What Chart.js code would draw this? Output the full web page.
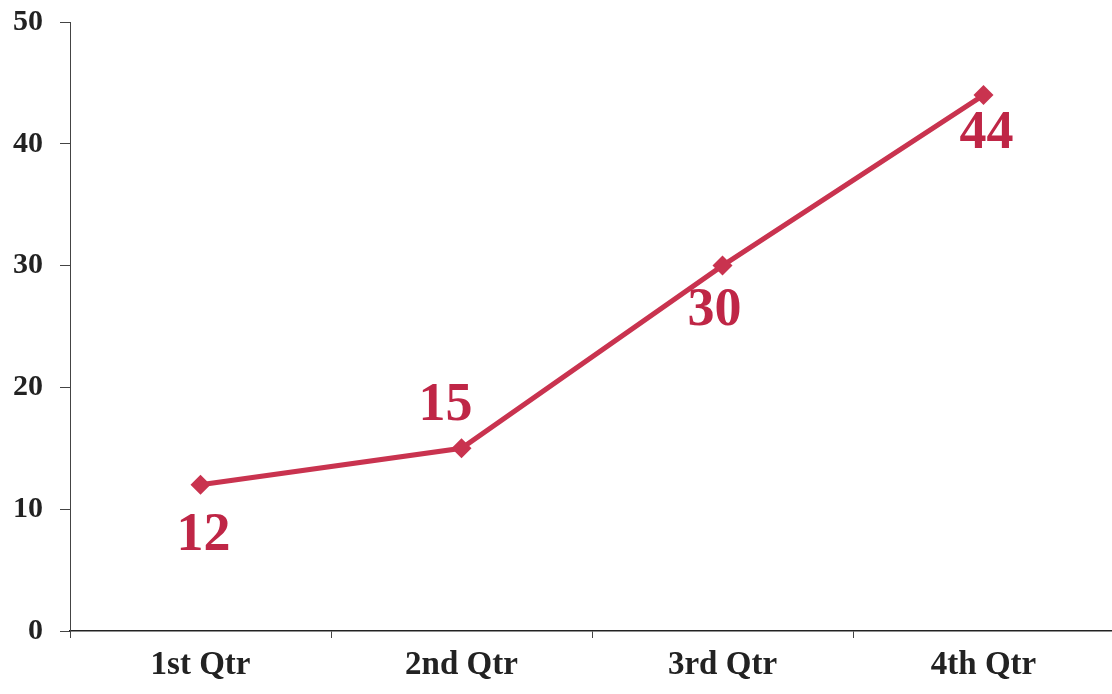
<!DOCTYPE html>
<html>
<head>
<meta charset="utf-8">
<script src="https://cdn.jsdelivr.net/npm/chart.js@4/dist/chart.umd.min.js"></script>
<style>
  html, body { margin: 0; padding: 0; background: #fff; overflow: hidden; }
  #view { width: 1112px; height: 694px; overflow: hidden; }
  #wrap { width: 1124px; height: 694px; }
</style>
</head>
<body>
<div id="view"><div id="wrap"><canvas id="chart"></canvas></div></div>
<script>
// ~~ DATA ~~
var quarters = ["1st Qtr", "2nd Qtr", "3rd Qtr", "4th Qtr"];
var sales = [12, 15, 30, 44];

var lineRed = "#c9334f";

// ~~ value labels drawn next to each point ~~
// offsets (dx, dy) from the marker, as placed in the original
var labelShift = [[3, 51], [-16, -42], [-8, 45], [3, 39]];

var valueLabels = {
  id: "valueLabels",
  afterDatasetsDraw: function(chart) {
    var ctx = chart.ctx;
    var meta = chart.getDatasetMeta(0);
    ctx.save();
    ctx.font = "bold 54px 'Liberation Serif', 'DejaVu Serif', serif";
    ctx.fillStyle = "#bf2646";
    ctx.textAlign = "center";
    ctx.textBaseline = "middle";
    meta.data.forEach(function(pt, i) {
      ctx.fillText(String(sales[i]), pt.x + labelShift[i][0], pt.y + labelShift[i][1]);
    });
    ctx.restore();
  }
};

new Chart(document.getElementById("chart"), {
  type: "line",
  data: {
    labels: quarters,
    datasets: [{
      label: "Sales",
      data: sales,
      borderColor: lineRed,
      backgroundColor: lineRed,
      borderWidth: 5,
      pointStyle: "rectRot",
      pointRadius: 10,
      pointBorderWidth: 0,
      tension: 0
    }]
  },
  options: {
    responsive: true,
    maintainAspectRatio: false,
    animation: false,
    layout: { padding: { top: 22, right: 0, left: 0, bottom: 0 } },
    plugins: {
      legend: { display: false },
      tooltip: { enabled: false }
    },
    scales: {
      x: {
        offset: true,
        grid: {
          display: true,
          offset: true,
          drawOnChartArea: false,
          drawTicks: true,
          tickLength: 7,
          color: "#444"
        },
        border: { display: true, color: "#222", width: 1.5 },
        ticks: {
          color: "#222",
          padding: 8,
          font: { family: "'Liberation Serif', serif", size: 33, weight: "bold" }
        },
        afterFit: function(scale) {
          scale.height = 63;
          scale.paddingLeft = 0;
          scale.paddingRight = 0;
        }
      },
      y: {
        min: 0,
        max: 50,
        ticks: {
          stepSize: 10,
          color: "#222",
          padding: 17,
          font: { family: "'Liberation Serif', serif", size: 30, weight: "bold" }
        },
        grid: {
          display: true,
          drawOnChartArea: false,
          drawTicks: true,
          tickLength: 10,
          color: "#444"
        },
        border: { display: true, color: "#444", width: 1 },
        afterFit: function(scale) {
          scale.width = 70;
          scale.paddingTop = 0;
          scale.paddingBottom = 0;
        }
      }
    }
  },
  plugins: [valueLabels]
});
</script>
</body>
</html>
